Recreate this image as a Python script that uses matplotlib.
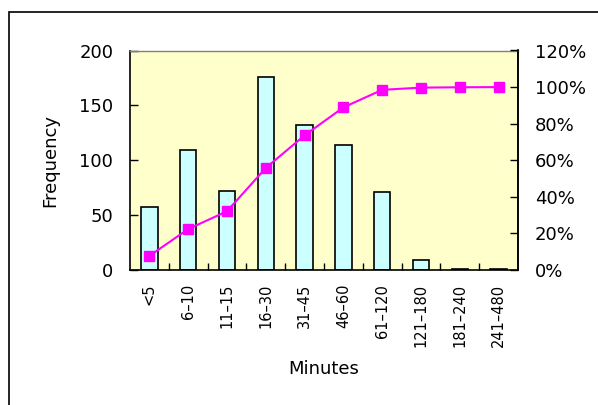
import matplotlib
matplotlib.use("Agg")
import matplotlib.pyplot as plt
from matplotlib.ticker import FuncFormatter, FixedLocator
from matplotlib.patches import Rectangle

categories = ["<5", "6–10", "11–15", "16–30", "31–45", "46–60", "61–120", "121–180", "181–240", "241–480"]
frequency = [57, 109, 72, 176, 132, 114, 71, 9, 1, 1]
cumulative_pct = [7.7, 22.4, 32.1, 55.8, 73.6, 88.9, 98.5, 99.7, 99.9, 100.0]

W, H = 598, 405
fig = plt.figure(figsize=(W / 100, H / 100), dpi=100)
plt.rcParams['font.family'] = ['DejaVu Sans']

# figure border (cut off at right and bottom)
fig.patches.append(Rectangle((9 / W, -0.1), 1.2, (405 - 12) / H + 0.1, transform=fig.transFigure,
                             fill=False, edgecolor="black", linewidth=1.2))

left, right, top, bottom = 130, 518, 50.5, 270
ax = fig.add_axes([left / W, (H - bottom) / H, (right - left) / W, (bottom - top) / H])
ax.set_facecolor("#FFFFCC")
x = list(range(len(categories)))
ax.bar(x, frequency, width=0.42, color="#CCFFFF", edgecolor="black", linewidth=1.2, zorder=2)
ax.set_xlim(-0.5, len(categories) - 0.5)
ax.set_ylim(0, 200)
ax.set_yticks([0, 50, 100, 150, 200])
ax.tick_params(axis="y", direction="in", length=6, width=1, labelsize=13, pad=12)
ax.set_xticks(x)
ax.set_xticklabels(categories, rotation=90, fontsize=10.5)
ax.tick_params(axis="x", which="major", length=0, pad=10)
ax.xaxis.set_minor_locator(FixedLocator([i + 0.5 for i in range(len(categories) - 1)]))
ax.tick_params(axis="x", which="minor", direction="in", length=5, width=1)
ax.set_ylabel("Frequency", fontsize=13)
ax.yaxis.set_label_coords(-(130 - 59) / (right - left), 0.5)
ax.set_xlabel("Minutes", fontsize=13)
ax.xaxis.set_label_coords(0.5, -(360 - 270) / (bottom - top))
for s in ["left", "bottom", "right"]:
    ax.spines[s].set_color("black")
    ax.spines[s].set_linewidth(1.2)
ax.spines["top"].set_color("#808080")
ax.spines["top"].set_linewidth(1)

ax2 = ax.twinx()
ax2.plot(x, [c / 100 for c in cumulative_pct], color="#FF00FF", linewidth=1.5,
         marker="s", markersize=6.7, markerfacecolor="#FF00FF", markeredgecolor="#FF00FF", zorder=3)
ax2.set_ylim(0, 1.2)
ax2.set_yticks([0, 0.2, 0.4, 0.6, 0.8, 1.0, 1.2])
ax2.yaxis.set_major_formatter(FuncFormatter(lambda v, p: f"{v*100:.0f}%"))
ax2.tick_params(axis="y", direction="in", length=6, width=1, labelsize=13, pad=12)
ax2.spines["right"].set_color("black")
ax2.spines["right"].set_linewidth(1.2)
ax2.spines["top"].set_visible(False)
ax2.spines["left"].set_visible(False)
ax2.spines["bottom"].set_visible(False)

fig.savefig("out.png", dpi=100)
